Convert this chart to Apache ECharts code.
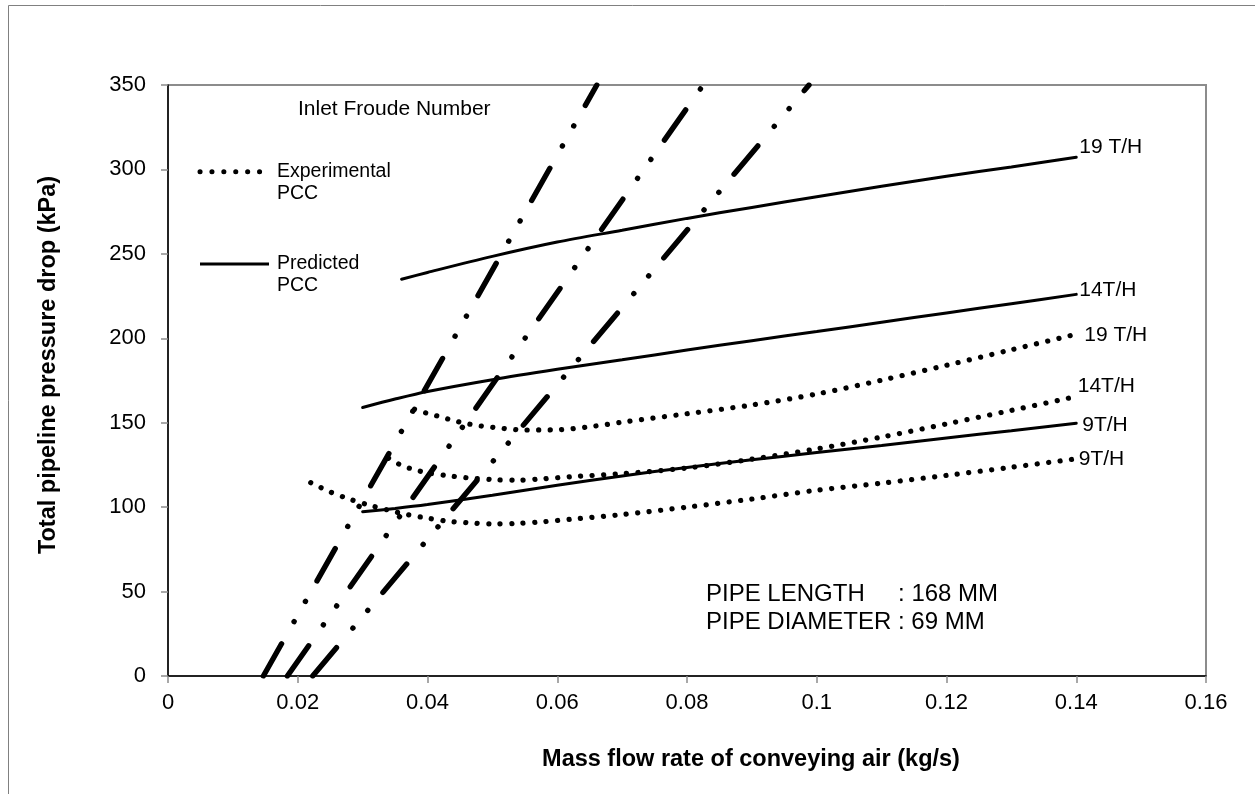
<!DOCTYPE html>
<html>
<head>
<meta charset="utf-8">
<script src="https://cdn.jsdelivr.net/npm/echarts@6/dist/echarts.min.js"></script>
<style>
  html, body { margin: 0; padding: 0; background: #fff; }
  #chart { width: 1255px; height: 794px; }
</style>
</head>
<body>
<div id="chart"></div>
<script>
// Pressure drop vs. air mass flow: predicted and experimental pneumatic conveying characteristics

// Axis ticks
const xTickValues = [0, 0.02, 0.04, 0.06, 0.08, 0.1, 0.12, 0.14, 0.16];
const yTickValues = [0, 50, 100, 150, 200, 250, 300, 350];

// Predicted PCC (solid lines)
const pred19X = [0.036, 0.04, 0.05, 0.06, 0.07, 0.08, 0.09, 0.10, 0.11, 0.12, 0.13, 0.14];
const pred19 = [235, 239, 248.5, 257, 264, 271, 277.5, 283.8, 290, 296, 301.5, 307.2];

const predX = [0.03, 0.035, 0.04, 0.05, 0.06, 0.07, 0.08, 0.09, 0.10, 0.11, 0.12, 0.13, 0.14];
const pred14 = [159, 164, 168.5, 175.5, 181.6, 187.3, 193, 198.6, 204, 209.5, 215, 220.5, 226];
const pred9 = [97.3, 99.2, 101.5, 107, 113, 118.5, 123.5, 128, 132.3, 136.5, 141, 145.3, 149.7];

// Experimental PCC (dotted lines)
const exp19X = [0.038, 0.04, 0.042, 0.044, 0.046, 0.048, 0.05, 0.055, 0.06, 0.065, 0.07, 0.08, 0.09, 0.10, 0.11, 0.12, 0.13, 0.14];
const exp19 = [158, 155.5, 153.5, 151.3, 149.5, 148.2, 147.3, 145.7, 145.8, 147.6, 150.3, 155.3, 160.5, 167, 175.2, 184, 193.2, 202.4];

const exp14X = [0.034, 0.036, 0.038, 0.04, 0.043, 0.046, 0.05, 0.054, 0.058, 0.062, 0.07, 0.08, 0.09, 0.10, 0.11, 0.12, 0.13, 0.14];
const exp14 = [129, 124.7, 122.2, 120.3, 118.7, 117.4, 116.3, 116, 116.8, 118, 119.8, 123.2, 128.4, 134.5, 141.5, 149.3, 157.3, 165.5];

const exp9X = [0.022, 0.025, 0.028, 0.031, 0.034, 0.037, 0.04, 0.043, 0.046, 0.05, 0.054, 0.058, 0.062, 0.07, 0.08, 0.09, 0.10, 0.11, 0.12, 0.13, 0.14];
const exp9 = [114.5, 109, 104.7, 101.2, 98.2, 95.5, 93.5, 91.7, 90.8, 90.1, 90.4, 91.4, 92.8, 95.6, 100, 104.8, 110, 114.2, 118.8, 123.6, 128.6];

// Inlet Froude number lines (straight, from zero pressure upward)
const froudeA = [[0.0147, 0], [0.0661, 350]];
const froudeB = [[0.0184, 0], [0.0825, 350]];
const froudeC = [[0.0223, 0], [0.0988, 350]];

// Curve end labels
const labelPred19 = '19 T/H';
const labelPred14 = '14T/H';
const labelPred9 = '9T/H';
const labelExp19 = '19 T/H';
const labelExp14 = '14T/H';
const labelExp9 = '9T/H';

const FONT = '"Liberation Sans", Arial, Helvetica, sans-serif';

function zip(xs, ys) { return xs.map((x, i) => [x, ys[i]]); }

function endLabel(text, offset) {
  return {
    show: true,
    formatter: text,
    color: '#000',
    fontFamily: FONT,
    fontSize: 21,
    distance: 0,
    offset: offset,
    align: 'left',
    verticalAlign: 'middle'
  };
}

function solidSeries(data, text, offset) {
  return {
    type: 'line',
    data: data,
    showSymbol: false,
    symbol: 'none',
    smooth: 0.3,
    lineStyle: { color: '#000', width: 3, type: 'solid', cap: 'round' },
    endLabel: endLabel(text, offset),
    z: 3
  };
}

function dottedSeries(data, text, offset) {
  return {
    type: 'line',
    data: data,
    showSymbol: false,
    symbol: 'none',
    smooth: 0.3,
    lineStyle: { color: '#000', width: 5.2, type: [0.1, 11.4], cap: 'round' },
    endLabel: endLabel(text, offset),
    z: 3
  };
}

function froudeSeries(data) {
  return {
    type: 'line',
    data: data,
    showSymbol: false,
    symbol: 'none',
    lineStyle: { color: '#000', width: 5.4, type: [37, 25.5, 0.1, 23, 0.1, 23.5], cap: 'round' },
    z: 2
  };
}

const chart = echarts.init(document.getElementById('chart'), null, { renderer: 'canvas' });

const axisLabelStyle = { color: '#000', fontFamily: FONT, fontSize: 22 };

chart.setOption({
  animation: false,
  backgroundColor: '#fff',
  grid: {
    left: 168, top: 85, width: 1038, height: 591,
    show: true, borderColor: '#8c8c8c', borderWidth: 2,
    containLabel: false, outerBoundsMode: 'none'
  },
  xAxis: {
    type: 'value',
    min: 0, max: 0.16, interval: 0.02,
    axisLine: { show: true, onZero: false, lineStyle: { color: '#000', width: 1.5 } },
    axisTick: { show: true, inside: false, length: 7, lineStyle: { color: '#8c8c8c', width: 1.5 } },
    splitLine: { show: false },
    axisLabel: Object.assign({ margin: 16, formatter: v => {
      const t = xTickValues.find(k => Math.abs(k - v) < 1e-9);
      return t === undefined ? '' : String(+t.toFixed(2));
    } }, axisLabelStyle)
  },
  yAxis: {
    type: 'value',
    min: 0, max: 350, interval: 50,
    axisLine: { show: true, onZero: false, lineStyle: { color: '#000', width: 1.5 } },
    axisTick: { show: true, inside: false, length: 7, lineStyle: { color: '#8c8c8c', width: 1.5 } },
    splitLine: { show: false },
    axisLabel: Object.assign({ margin: 22, formatter: v => {
      const t = yTickValues.find(k => Math.abs(k - v) < 1e-9);
      return t === undefined ? '' : String(t);
    } }, axisLabelStyle)
  },
  series: [
    froudeSeries(froudeA),
    froudeSeries(froudeB),
    froudeSeries(froudeC),
    solidSeries(zip(pred19X, pred19), labelPred19, [3, -10.5]),
    solidSeries(zip(predX, pred14), labelPred14, [3, -4.5]),
    solidSeries(zip(predX, pred9), labelPred9, [6, 2]),
    dottedSeries(zip(exp19X, exp19), labelExp19, [8, 1]),
    dottedSeries(zip(exp14X, exp14), labelExp14, [1.5, -10]),
    dottedSeries(zip(exp9X, exp9), labelExp9, [2.5, 0])
  ],
  graphic: [
    // chart area frame
    { type: 'rect', silent: true, z: -10,
      shape: { x: 8.5, y: 5.5, width: 1400, height: 1000 },
      style: { fill: 'none', stroke: '#808080', lineWidth: 1 } },
    // key
    { type: 'text', x: 298, y: 109, z: 10,
      style: { text: 'Inlet Froude Number', fontFamily: FONT, fontSize: 21, fill: '#000', align: 'left', verticalAlign: 'middle' } },
    { type: 'line', z: 10,
      shape: { x1: 200, y1: 171.7, x2: 260, y2: 171.7 },
      style: { stroke: '#000', lineWidth: 5, lineDash: [0.1, 11.8], lineCap: 'round' } },
    { type: 'text', x: 277, y: 161, z: 10,
      style: { text: 'Experimental\nPCC', fontFamily: FONT, fontSize: 19.5, lineHeight: 21.6, fill: '#000', align: 'left', verticalAlign: 'top' } },
    { type: 'line', z: 10,
      shape: { x1: 200, y1: 264, x2: 269, y2: 264 },
      style: { stroke: '#000', lineWidth: 3 } },
    { type: 'text', x: 277, y: 253.2, z: 10,
      style: { text: 'Predicted\nPCC', fontFamily: FONT, fontSize: 19.5, lineHeight: 21.6, fill: '#000', align: 'left', verticalAlign: 'top' } },
    // pipe data note
    { type: 'text', x: 706, y: 580, z: 10,
      style: { text: 'PIPE LENGTH     : 168 MM\nPIPE DIAMETER : 69 MM', fontFamily: FONT, fontSize: 24, lineHeight: 28, fill: '#000', align: 'left', verticalAlign: 'top' } },
    // axis titles
    { type: 'text', x: 751, y: 760, z: 10,
      style: { text: 'Mass flow rate of conveying air (kg/s)', fontFamily: FONT, fontSize: 23.5, fontWeight: 'bold', fill: '#000', align: 'center', verticalAlign: 'middle' } },
    { type: 'text', x: 49, y: 365, rotation: Math.PI / 2, z: 10,
      style: { text: 'Total pipeline pressure drop (kPa)', fontFamily: FONT, fontSize: 23.5, fontWeight: 'bold', fill: '#000', align: 'center', verticalAlign: 'middle' } }
  ]
});
</script>
</body>
</html>
